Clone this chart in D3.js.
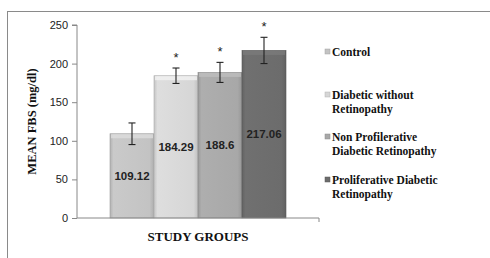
<!DOCTYPE html>
<html><head><meta charset="utf-8">
<script src="https://cdn.jsdelivr.net/npm/d3@7"></script>
<style>body{margin:0;background:#fff}svg{display:block}</style>
</head><body>
<script>
const categories = ["Control", "Diabetic without Retinopathy", "Non Profilerative Diabetic Retinopathy", "Proliferative Diabetic Retinopathy"];
const legendLines = [["Control"], ["Diabetic without", "Retinopathy"], ["Non Profilerative", "Diabetic Retinopathy"], ["Proliferative Diabetic", "Retinopathy"]];
const values = [109.12, 184.29, 188.6, 217.06];
const errors = [14, 10, 13, 17];
const significant = [false, true, true, true];
const yTicks = [0, 50, 100, 150, 200, 250];
const colors = ["#c3c3c3", "#d6d6d6", "#a8a8a8", "#6c6c6c"];

const W = 490, H = 258;
const svg = d3.select("body").append("svg").attr("width", W).attr("height", H);

// outer frame
svg.append("rect").attr("x", 7.5).attr("y", 11.5).attr("width", 500).attr("height", 260)
  .attr("fill", "none").attr("stroke", "#8a8a8a").attr("stroke-width", 1);

const plot = {left: 77, right: 319, top: 25, bottom: 218};
const y = d3.scaleLinear().domain([0, 250]).range([plot.bottom, plot.top]);
const group = d3.scaleBand().domain(["g"]).range([plot.left, plot.right]).paddingInner(0).paddingOuter(0.1875);
const x = d3.scaleBand().domain(categories).range([group("g"), group("g") + group.bandwidth()]).padding(0);

const defs = svg.append("defs");
colors.forEach((c, i) => {
  const g = defs.append("linearGradient").attr("id", "g" + i).attr("x1", 0).attr("x2", 1).attr("y1", 0).attr("y2", 0);
  const base = d3.color(c);
  g.append("stop").attr("offset", 0).attr("stop-color", base.darker(0.25));
  g.append("stop").attr("offset", 0.08).attr("stop-color", base.brighter(0.1));
  g.append("stop").attr("offset", 0.9).attr("stop-color", base);
  g.append("stop").attr("offset", 1).attr("stop-color", base.darker(0.3));
});

// axes
const yAxis = d3.axisLeft(y).tickValues(yTicks).tickSize(5).tickPadding(4);
const ya = svg.append("g").attr("transform", `translate(${plot.left},0)`).call(yAxis);
ya.select(".domain").attr("stroke", "#888").attr("d", `M-5,${plot.top}H0V${plot.bottom}`);
ya.selectAll(".tick line").attr("stroke", "#888");
ya.selectAll(".tick text").attr("font-family", "Liberation Sans, Arial, sans-serif").attr("font-size", 11).attr("fill", "#222");

const bars = svg.append("g");
categories.forEach((c, i) => {
  const bx = x(c), bw = x.bandwidth(), by = y(values[i]), bh = plot.bottom - by;
  bars.append("rect").attr("x", bx).attr("y", by).attr("width", bw).attr("height", bh)
    .attr("fill", `url(#g${i})`).attr("stroke", d3.color(colors[i]).darker(0.6)).attr("stroke-width", 0.6);
  bars.append("rect").attr("x", bx + 1).attr("y", by + 0.5).attr("width", bw - 2).attr("height", 4)
    .attr("fill", d3.color(colors[i]).brighter(0.35)).attr("opacity", 0.8);
});

svg.append("line").attr("x1", plot.left).attr("x2", plot.right).attr("y1", plot.bottom).attr("y2", plot.bottom).attr("stroke", "#888");
svg.append("line").attr("x1", plot.right).attr("x2", plot.right).attr("y1", plot.bottom).attr("y2", plot.bottom + 4).attr("stroke", "#888");

// error bars
const eb = svg.append("g").attr("stroke", "#222").attr("stroke-width", 1.1);
categories.forEach((c, i) => {
  const cx = x(c) + x.bandwidth() / 2;
  const y1 = y(values[i] + errors[i]), y2 = y(values[i] - errors[i]);
  eb.append("line").attr("x1", cx).attr("x2", cx).attr("y1", y1).attr("y2", y2);
  eb.append("line").attr("x1", cx - 3.5).attr("x2", cx + 3.5).attr("y1", y1).attr("y2", y1);
  eb.append("line").attr("x1", cx - 3.5).attr("x2", cx + 3.5).attr("y1", y2).attr("y2", y2);
  if (significant[i]) {
    svg.append("text").attr("x", cx).attr("y", y1 - 6).attr("text-anchor", "middle")
      .attr("font-family", "Liberation Sans, Arial, sans-serif").attr("font-size", 13).attr("fill", "#222").text("*");
  }
});

// value labels (centered in bar)
categories.forEach((c, i) => {
  const cx = x(c) + x.bandwidth() / 2;
  svg.append("text").attr("x", cx).attr("y", y(values[i] / 2)).attr("text-anchor", "middle").attr("dominant-baseline", "central")
    .attr("font-family", "Liberation Sans, Arial, sans-serif").attr("font-weight", "bold").attr("font-size", 11.5)
    .attr("fill", "#222").text(values[i]);
});

// axis titles
svg.append("text").attr("transform", `translate(36,${(plot.top + plot.bottom) / 2}) rotate(-90)`)
  .attr("text-anchor", "middle").attr("font-family", "Liberation Serif, Times New Roman, serif")
  .attr("font-weight", "bold").attr("font-size", 12.5).attr("fill", "#111").text("MEAN FBS (mg/dl)");
svg.append("text").attr("x", 198).attr("y", 241).attr("text-anchor", "middle")
  .attr("font-family", "Liberation Serif, Times New Roman, serif").attr("font-weight", "bold")
  .attr("font-size", 13).attr("fill", "#111").text("STUDY GROUPS");

// legend
const legY = [52, 95, 137, 180];
const leg = svg.append("g");
legendLines.forEach((lines, i) => {
  leg.append("rect").attr("x", 325).attr("y", legY[i] - 3).attr("width", 5).attr("height", 5)
    .attr("fill", colors[i]).attr("stroke", d3.color(colors[i]).darker(0.5)).attr("stroke-width", 0.5);
  lines.forEach((t, j) => {
    leg.append("text").attr("x", 332).attr("y", legY[i] + j * 13.5).attr("dominant-baseline", "central")
      .attr("font-family", "Liberation Serif, Times New Roman, serif").attr("font-weight", "bold")
      .attr("font-size", 11.5).attr("fill", "#111").text(t);
  });
});
</script>
</body></html>
